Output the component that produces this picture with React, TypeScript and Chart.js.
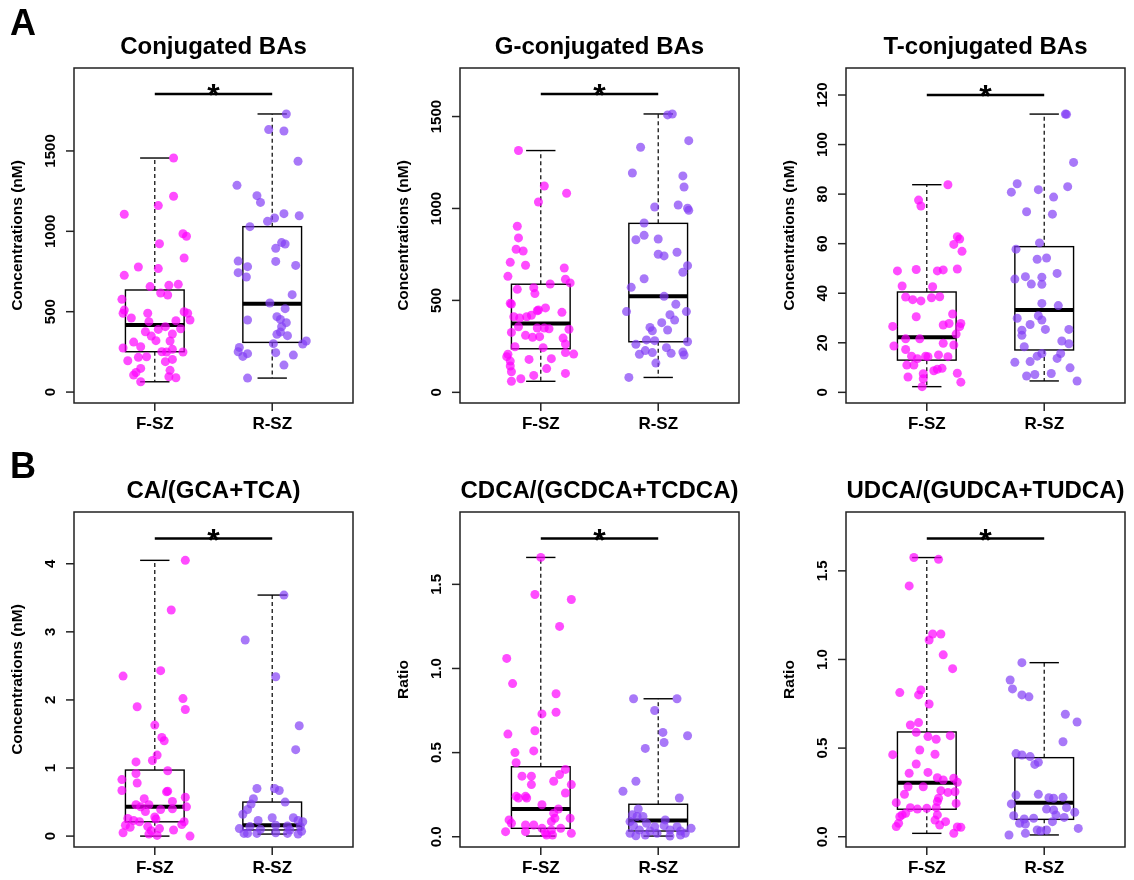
import React, { useEffect, useRef } from "react";
import { Chart, registerables } from "chart.js";
Chart.register(...registerables);

const FONT = '"Liberation Sans", Arial, Helvetica, sans-serif';
const GROUPS = ["F-SZ", "R-SZ"];
const COLOR_F = "rgba(255,0,255,0.7)";
const COLOR_R = "rgba(131,62,245,0.7)";

// ---------- Panel A1: Conjugated BAs ----------
const conjF = [1456,1218,1106,1160,985,969,923,834,778,726,768,656,664,670,616,604,577,510,490,490,500,490,461,438,444,448,407,390,375,349,361,394,320,318,311,282,274,251,249,266,249,195,216,220,189,203,147,122,106,135,95,89,64];
const conjFJit = [0.16,0.16,-0.26,0.03,0.24,0.27,0.04,0.25,-0.14,-0.26,0.03,-0.04,0.12,0.2,0.05,0.11,-0.28,-0.26,-0.27,-0.06,0.25,0.28,-0.2,-0.05,0.18,0.3,0.09,0.03,-0.08,-0.03,0.15,0.22,0.01,0.13,-0.18,-0.12,-0.27,0.06,0.1,0.15,0.24,-0.23,-0.14,-0.07,0.09,0.15,-0.12,-0.16,-0.18,0.13,0.12,0.18,-0.12];
const conjR = [1730,1633,1624,1436,1286,1222,1180,1110,1097,1083,1062,1029,930,921,894,815,780,813,788,743,716,606,554,519,448,469,452,432,407,373,359,351,318,299,301,278,251,222,239,245,230,168,87];
const conjRJit = [0.12,-0.03,0.1,0.22,-0.3,-0.13,-0.1,0.1,0.23,0.02,-0.04,-0.19,0.08,0.11,0.03,-0.29,-0.21,0.03,0.2,-0.29,-0.22,0.17,-0.02,0.11,-0.21,0.04,0.07,0.12,0.08,0.07,0.04,0.13,0.29,0.26,0.01,-0.28,-0.29,-0.25,-0.21,0.03,0.18,0.1,-0.21];
const conjFBox = [64, 251, 417, 635, 1456];
const conjRBox = [87, 309, 550, 1029, 1730];

// ---------- Panel A2: G-conjugated BAs ----------
const gF = [1315,1122,1035,1083,903,840,778,769,707,691,631,676,615,595,560,569,537,589,484,480,459,448,444,435,419,411,404,411,357,350,350,346,343,326,310,299,303,295,263,248,243,207,194,216,208,179,183,170,143,129,112,103,92,74,60];
const gFJit = [-0.19,0.03,-0.02,0.22,-0.2,-0.19,-0.21,-0.15,-0.26,-0.13,-0.28,0.2,0.21,0.25,-0.2,-0.06,-0.05,0.08,-0.26,-0.25,0.04,-0.02,-0.03,0.18,-0.08,-0.12,-0.18,-0.23,-0.19,-0.03,0.03,0.07,0.24,-0.25,-0.13,-0.07,-0.01,0.19,0.21,-0.22,0.02,-0.28,-0.29,0.21,0.28,-0.1,0.09,-0.26,-0.26,0.05,-0.25,0.21,-0.06,-0.17,-0.25];
const gR = [1509,1514,1369,1333,1193,1177,1117,1008,1019,1001,990,921,854,830,834,751,742,762,689,653,618,571,522,479,439,439,422,393,379,353,335,339,285,281,275,261,243,227,207,216,212,219,203,159,81];
const gRJit = [0.08,0.12,0.26,-0.15,-0.22,0.21,0.22,-0.03,0.17,0.25,0.26,-0.12,-0.12,-0.19,0,0,0.05,0.16,0.25,0.21,-0.12,-0.23,0.05,0.15,-0.27,0.24,0.1,0.14,0.03,-0.07,-0.05,0.08,-0.1,-0.03,0.25,-0.19,0.07,-0.11,-0.16,-0.05,0.11,0.21,0.22,-0.02,-0.25];
const gFBox = [60, 237, 375, 588, 1315];
const gRBox = [81, 275, 522, 919, 1514];

// ---------- Panel A3: T-conjugated BAs ----------
const tF = [77.6,75.2,49.0,49.6,49.0,42.9,42.6,38.5,37.4,36.9,38.2,38.6,30.5,26.6,21.6,21.6,18.7,17.3,14.6,13.6,14.6,14.4,11.0,11.0,9.3,9.7,7.5,6.2,5.5,2.3,27.2,19.8,15.1,8.7,49.4,83.8,62.8,61.9,59.7,56.9,49.8,31.6,27.8,27.8,26.5,23.5,19.1,14.4,7.7,4.1];
const tFJit = [-0.07,-0.05,-0.25,-0.09,0.09,-0.21,0.05,-0.18,-0.12,-0.05,0.04,0.11,-0.09,-0.29,-0.18,-0.06,-0.28,-0.18,-0.13,-0.08,-0.01,0.01,-0.17,-0.11,0.09,0.13,-0.03,-0.16,-0.03,-0.04,0.14,0.14,0.1,0.06,0.14,0.18,0.26,0.28,0.23,0.3,0.26,0.22,0.19,0.29,0.28,0.25,0.23,0.18,0.26,0.29];
const tR = [112.3,112.2,92.8,84.2,80.8,81.8,83.0,78.8,72.9,71.9,60.3,57.8,53.7,54.2,45.7,46.7,43.7,46.5,43.6,48.0,35.9,35.0,29.9,30.9,29.2,27.4,25.1,23.0,25.4,25.4,20.7,19.6,18.4,15.7,13.7,14.6,15.7,12.1,12.4,9.9,7.6,6.6,7.2,4.6];
const tRJit = [0.18,0.19,0.25,-0.23,-0.28,-0.05,0.2,0.08,-0.15,0.07,-0.04,-0.24,-0.06,0.02,-0.25,-0.16,-0.11,-0.02,-0.02,0.11,-0.02,0.12,-0.23,-0.05,-0.02,-0.12,-0.19,-0.19,0.01,0.21,0.15,0.21,-0.17,0.14,0.11,-0.06,-0.02,-0.25,-0.12,0.22,0.06,-0.15,-0.08,0.28];
const tFBox = [2.3, 13.0, 22.2, 40.5, 83.8];
const tRBox = [4.6, 17.1, 33.2, 58.8, 112.3];

// ---------- Panel B1: CA/(GCA+TCA) ----------
const caF = [4.05,3.32,2.35,2.43,2.02,1.86,1.90,1.63,1.45,1.40,1.19,1.11,1.09,0.96,0.83,0.92,0.78,0.67,0.65,0.66,0.55,0.51,0.57,0.46,0.43,0.46,0.39,0.40,0.43,0.26,0.23,0.21,0.36,0.28,0.25,0.14,0.16,0.13,0.05,0.08,0.11,0.09,0.17,0.21,0.01,0.0,0.03];
const caFJit = [0.26,0.14,-0.27,0.05,0.24,0.26,-0.15,0,0.06,0.08,0.02,-0.02,-0.16,0.11,-0.28,-0.16,-0.15,-0.28,0.1,0.11,-0.09,0.15,0.26,-0.16,-0.12,-0.05,0.05,0.15,0.27,-0.23,-0.18,-0.13,-0.08,0,0.01,-0.06,-0.25,-0.21,-0.27,-0.03,0.04,0.16,0.23,0.25,0.02,0.3,-0.05];
const caR = [3.54,2.88,2.34,1.62,1.27,0.70,0.70,0.67,0.55,0.47,0.50,0.39,0.32,0.27,0.23,0.27,0.23,0.21,0.11,0.14,0.10,0.16,0.15,0.09,0.14,0.04,0.04,0.05,0.04,0.03,0.07,0.04];
const caRJit = [0.1,-0.23,0.03,0.23,0.2,-0.13,0.02,0.06,-0.16,-0.18,0.11,-0.21,-0.25,0,-0.12,0.18,0.22,0.26,-0.28,-0.19,-0.1,0.03,0.13,0.15,0.24,-0.24,-0.13,0.03,0.13,0.22,0.25,-0.21];
const caFBox = [0, 0.21, 0.43, 0.97, 4.05];
const caRBox = [0.03, 0.09, 0.16, 0.50, 3.54];

// ---------- Panel B2: CDCA/(GCDCA+TCDCA) ----------
const cdF = [1.66,1.44,1.41,1.25,1.06,0.91,0.85,0.73,0.74,0.61,0.63,0.50,0.51,0.44,0.36,0.36,0.31,0.33,0.37,0.40,0.31,0.26,0.24,0.23,0.24,0.23,0.19,0.165,0.14,0.10,0.08,0.07,0.07,0.09,0.11,0.11,0.03,0.03,0.05,0.02,0.04,0.05,0.01,0.01,0.02];
const cdFJit = [0,-0.05,0.26,0.16,-0.29,-0.24,0.13,0.01,0.13,-0.28,-0.05,-0.22,-0.06,-0.21,-0.16,-0.08,-0.08,0.11,0.16,0.21,0.26,0.21,-0.21,-0.19,-0.13,-0.12,0.01,0.15,0.11,-0.27,-0.25,-0.13,-0.06,0.09,0.12,0.25,-0.3,-0.13,0.01,0.04,0.09,0.17,0.1,0.05,0.26];
const cdR = [0.82,0.82,0.75,0.62,0.60,0.56,0.525,0.33,0.27,0.23,0.165,0.13,0.12,0.12,0.09,0.10,0.066,0.08,0.06,0.066,0.06,0.04,0.034,0.04,0.034,0.05,0.006,0.01,0.02,0.004,0.01,0.02,0.02];
const cdRJit = [-0.21,0.16,-0.03,0.04,0.25,0.05,-0.11,-0.19,-0.3,0.18,-0.17,-0.22,-0.18,-0.13,-0.24,0.06,-0.21,-0.1,-0.03,0.05,0.16,-0.16,-0.07,0.1,0.19,0.28,-0.19,-0.11,-0.01,0.1,0.19,0.23,-0.24];
const cdFBox = [0.004, 0.05, 0.165, 0.416, 1.66];
const cdRBox = [0.004, 0.034, 0.097, 0.193, 0.82];

// ---------- Panel B3: UDCA/(GUDCA+TUDCA) ----------
const udF = [1.575,1.565,1.415,1.11,1.144,1.144,1.026,0.813,0.828,0.80,0.749,0.63,0.644,0.589,0.565,0.55,0.463,0.489,0.465,0.41,0.358,0.363,0.333,0.282,0.282,0.32,0.26,0.239,0.217,0.192,0.164,0.156,0.16,0.198,0.123,0.132,0.113,0.076,0.057,0.094,0.066,0.123,0.164,0.948,0.57,0.33,0.307,0.254,0.25,0.188,0.085,0.055,0.053,0.019];
const udFJit = [-0.11,0.1,-0.15,0.02,0.05,0.12,0.14,-0.23,-0.05,-0.07,0.02,-0.14,-0.07,-0.09,0.01,0.08,-0.29,-0.06,0.07,-0.09,-0.15,0.01,0.09,-0.16,-0.03,0.14,0.12,-0.19,0.1,-0.26,-0.14,-0.08,0,0.09,-0.21,-0.18,-0.23,-0.24,-0.26,0.07,0.11,0.09,0.08,0.22,0.2,0.23,0.26,0.24,0.18,0.25,0.16,0.26,0.29,0.23];
const udR = [0.982,0.884,0.834,0.80,0.789,0.691,0.647,0.536,0.469,0.461,0.452,0.408,0.42,0.239,0.235,0.22,0.217,0.222,0.185,0.156,0.164,0.151,0.123,0.138,0.119,0.10,0.104,0.109,0.076,0.072,0.038,0.032,0.085,0.01,0.019,0.038,0.047];
const udRJit = [-0.19,-0.29,-0.27,-0.19,-0.13,0.18,0.28,0.16,-0.24,-0.19,-0.12,-0.08,-0.05,-0.05,-0.24,0.04,0.08,0.16,-0.28,0.02,0.19,0.08,0.1,0.26,-0.26,-0.17,-0.09,0.17,-0.21,-0.16,-0.06,-0.03,0.07,-0.3,-0.16,0.02,0.29];
const udFBox = [0.019, 0.155, 0.305, 0.591, 1.575];
const udRBox = [0.01, 0.098, 0.192, 0.446, 0.982];

// tick values / labels
const ticksConj = [0, 500, 1000, 1500];
const ticksT = [0, 20, 40, 60, 80, 100, 120];
const ticksCA = [0, 1, 2, 3, 4];
const ticksRatio = [0, 0.5, 1.0, 1.5];

type Panel = {
  title: string; yTitle: string; yMin: number; yMax: number;
  ticks: number[]; tickLabels: string[]; sigY: number;
  f: number[]; fj: number[]; r: number[]; rj: number[]; fBox: number[]; rBox: number[];
};

const PANELS: Panel[] = [
  { title: "Conjugated BAs", yTitle: "Concentrations (nM)", yMin: -68, yMax: 2016, ticks: ticksConj, tickLabels: ticksConj.map(String), sigY: 1855, f: conjF, fj: conjFJit, r: conjR, rj: conjRJit, fBox: conjFBox, rBox: conjRBox },
  { title: "G-conjugated BAs", yTitle: "Concentrations (nM)", yMin: -58, yMax: 1764, ticks: ticksConj, tickLabels: ticksConj.map(String), sigY: 1623, f: gF, fj: gFJit, r: gR, rj: gRJit, fBox: gFBox, rBox: gRBox },
  { title: "T-conjugated BAs", yTitle: "Concentrations (nM)", yMin: -4.3, yMax: 130.9, ticks: ticksT, tickLabels: ticksT.map(String), sigY: 120, f: tF, fj: tFJit, r: tR, rj: tRJit, fBox: tFBox, rBox: tRBox },
  { title: "CA/(GCA+TCA)", yTitle: "Concentrations (nM)", yMin: -0.16, yMax: 4.76, ticks: ticksCA, tickLabels: ticksCA.map(String), sigY: 4.37, f: caF, fj: caFJit, r: caR, rj: caRJit, fBox: caFBox, rBox: caRBox },
  { title: "CDCA/(GCDCA+TCDCA)", yTitle: "Ratio", yMin: -0.061, yMax: 1.93, ticks: ticksRatio, tickLabels: ticksRatio.map(v => v.toFixed(1)), sigY: 1.772, f: cdF, fj: cdFJit, r: cdR, rj: cdRJit, fBox: cdFBox, rBox: cdRBox },
  { title: "UDCA/(GUDCA+TUDCA)", yTitle: "Ratio", yMin: -0.058, yMax: 1.832, ticks: ticksRatio, tickLabels: ticksRatio.map(v => v.toFixed(1)), sigY: 1.682, f: udF, fj: udFJit, r: udR, rj: udRJit, fBox: udFBox, rBox: udRBox },
];

const W = 386, H = 440, PAD_L = 74, FRAME_W = 279;
const ROW_PAD = [ { top: 68, bottom: 37 }, { top: 72, bottom: 33 } ];

function makePlugin(p: Panel) {
  const line = (ctx: CanvasRenderingContext2D, x1: number, y1: number, x2: number, y2: number) => {
    ctx.beginPath(); ctx.moveTo(x1, y1); ctx.lineTo(x2, y2); ctx.stroke();
  };
  return {
    id: "boxplotDraw",
    beforeDatasetsDraw(chart: any) {
      const ctx: CanvasRenderingContext2D = chart.ctx;
      const x = chart.scales.x, y = chart.scales.y;
      [p.fBox, p.rBox].forEach((b, gi) => {
        const cx = x.getPixelForValue(gi + 1);
        const hw = x.getPixelForValue(gi + 1.25) - cx;
        const cw = hw / 2;
        const [mn, q1, md, q3, mx] = b.map((v) => y.getPixelForValue(v));
        ctx.save();
        ctx.strokeStyle = "#000";
        ctx.lineWidth = 1.2;
        ctx.setLineDash([4, 3]);
        line(ctx, cx, q3, cx, mx);
        line(ctx, cx, q1, cx, mn);
        ctx.setLineDash([]);
        ctx.lineWidth = 1.4;
        line(ctx, cx - cw, mx, cx + cw, mx);
        line(ctx, cx - cw, mn, cx + cw, mn);
        ctx.strokeRect(cx - hw, q3, 2 * hw, q1 - q3);
        ctx.lineWidth = 4;
        line(ctx, cx - hw, md, cx + hw, md);
        ctx.restore();
      });
    },
    afterDraw(chart: any) {
      const ctx: CanvasRenderingContext2D = chart.ctx;
      const a = chart.chartArea;
      const x = chart.scales.x, y = chart.scales.y;
      ctx.save();
      // frame
      ctx.strokeStyle = "#222";
      ctx.lineWidth = 1.5;
      ctx.strokeRect(a.left, a.top, a.right - a.left, a.bottom - a.top);
      // y ticks
      ctx.fillStyle = "#000";
      ctx.font = `bold 15px ${FONT}`;
      p.ticks.forEach((t, i) => {
        const py = y.getPixelForValue(t);
        line(ctx, a.left - 8, py, a.left, py);
        ctx.save();
        ctx.translate(a.left - 23, py);
        ctx.rotate(-Math.PI / 2);
        ctx.textAlign = "center";
        ctx.textBaseline = "middle";
        ctx.fillText(p.tickLabels[i], 0, 0);
        ctx.restore();
      });
      // x ticks
      ctx.font = `bold 17px ${FONT}`;
      ctx.textAlign = "center";
      ctx.textBaseline = "middle";
      GROUPS.forEach((g, i) => {
        const px = x.getPixelForValue(i + 1);
        line(ctx, px, a.bottom, px, a.bottom + 8);
        ctx.fillText(g, px, a.bottom + 21);
      });
      // y title
      ctx.save();
      ctx.font = `bold 15.5px ${FONT}`;
      ctx.translate(a.left - 56, (a.top + a.bottom) / 2);
      ctx.rotate(-Math.PI / 2);
      ctx.fillText(p.yTitle, 0, 0);
      ctx.restore();
      // title
      ctx.font = `bold 24px ${FONT}`;
      ctx.fillText(p.title, (a.left + a.right) / 2, a.top - 21);
      // significance bar
      const sy = y.getPixelForValue(p.sigY);
      const x1 = x.getPixelForValue(1), x2 = x.getPixelForValue(2);
      ctx.strokeStyle = "#000";
      ctx.lineWidth = 2.5;
      line(ctx, x1, sy, x2, sy);
      ctx.font = `bold 32px ${FONT}`;
      ctx.textBaseline = "alphabetic";
      ctx.fillText("*", (x1 + x2) / 2, sy + 12);
      ctx.restore();
    },
  };
}

function BoxPanel({ p, left, top, row }: { p: Panel; left: number; top: number; row: number }) {
  const ref = useRef<HTMLCanvasElement>(null);
  useEffect(() => {
    const pad = ROW_PAD[row];
    const chart = new Chart(ref.current as HTMLCanvasElement, {
      type: "scatter",
      data: {
        datasets: [
          { data: p.f.map((v, i) => ({ x: 1 + (p.fj[i] ?? 0), y: v })), backgroundColor: COLOR_F, borderWidth: 0, pointRadius: 4.5 },
          { data: p.r.map((v, i) => ({ x: 2 + (p.rj[i] ?? 0), y: v })), backgroundColor: COLOR_R, borderWidth: 0, pointRadius: 4.5 },
        ],
      },
      options: {
        responsive: false,
        animation: false,
        devicePixelRatio: 1,
        events: [],
        layout: { padding: { left: PAD_L, right: W - PAD_L - FRAME_W, top: pad.top, bottom: pad.bottom } },
        scales: {
          x: { type: "linear", min: 0.312, max: 2.688, display: false },
          y: { type: "linear", min: p.yMin, max: p.yMax, display: false },
        },
        plugins: { legend: { display: false }, tooltip: { enabled: false } },
      } as any,
      plugins: [makePlugin(p) as any],
    });
    return () => chart.destroy();
  }, [p, row]);
  return <canvas ref={ref} width={W} height={H} style={{ position: "absolute", left, top, width: W, height: H }} />;
}

export default function App() {
  const lefts = [0, 386, 772];
  return (
    <div style={{ position: "absolute", left: 0, top: 0, width: 1134, height: 880, overflow: "hidden", background: "#fff" }}>
      {PANELS.map((p, i) => (
        <BoxPanel key={i} p={p} row={Math.floor(i / 3)} left={lefts[i % 3]} top={Math.floor(i / 3) * 440} />
      ))}
      <div style={{ position: "absolute", left: 10, top: 5, font: `bold 36px ${FONT}`, lineHeight: "36px" }}>A</div>
      <div style={{ position: "absolute", left: 10, top: 448, font: `bold 36px ${FONT}`, lineHeight: "36px" }}>B</div>
    </div>
  );
}
